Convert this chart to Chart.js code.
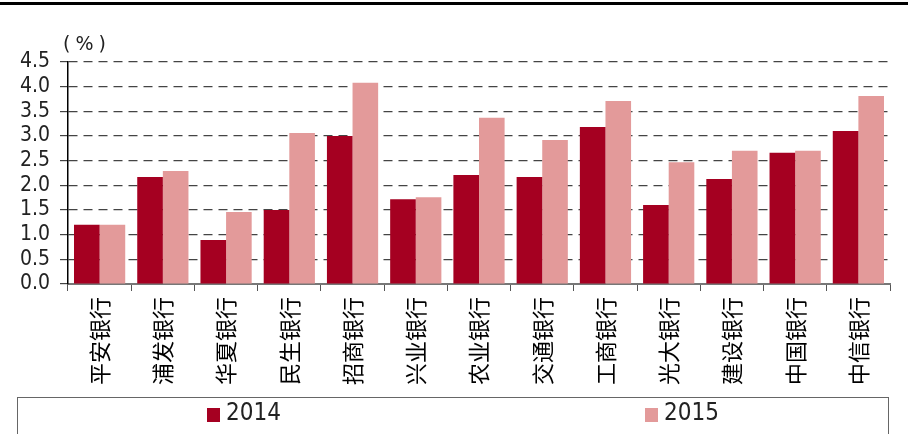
<!DOCTYPE html>
<html>
<head>
<meta charset="utf-8">
<script src="https://cdn.jsdelivr.net/npm/chart.js@4/dist/chart.umd.min.js"></script>
<style>
  html, body { margin: 0; padding: 0; background: #fff; }
  #wrap { width: 908px; height: 434px; position: relative; }
</style>
</head>
<body>
<div id="wrap"><canvas id="chart_banks"></canvas></div>
<script>
var banks = ['平安银行', '浦发银行', '华夏银行', '民生银行', '招商银行', '兴业银行', '农业银行',
             '交通银行', '工商银行', '光大银行', '建设银行', '中国银行', '中信银行'];
var values2014 = [1.20, 2.17, 0.89, 1.50, 3.00, 1.72, 2.21, 2.17, 3.18, 1.60, 2.13, 2.66, 3.10];
var values2015 = [1.20, 2.29, 1.46, 3.06, 4.08, 1.76, 3.37, 2.92, 3.71, 2.47, 2.70, 2.70, 3.81];
var seriesNames = ['2014', '2015'];
var unitLabel = '(%)';

var numFont = '"Liberation Sans Narrow", "DejaVu Sans Condensed", "Liberation Sans", sans-serif';

var chart_banks = new Chart(document.getElementById('chart_banks'), {
    type: 'bar',
    data: {
        labels: banks,
        datasets: [
            {
                label: seriesNames[0],
                data: values2014,
                backgroundColor: '#A50021',
                categoryPercentage: 0.81,
                barPercentage: 1.0
            },
            {
                label: seriesNames[1],
                data: values2015,
                backgroundColor: '#E39A9A',
                categoryPercentage: 0.81,
                barPercentage: 1.0
            }
        ]
    },
    options: {
        animation: false,
        responsive: true,
        maintainAspectRatio: false,
        layout: {
            padding: { top: 62, right: 18, bottom: 44, left: 0 }
        },
        plugins: {
            legend: { display: false },
            tooltip: { enabled: false }
        },
        scales: {
            x: {
                grid: {
                    offset: true,
                    drawOnChartArea: false,
                    tickLength: 7,
                    color: '#555'
                },
                border: { color: '#777', width: 2 },
                ticks: {
                    minRotation: 90,
                    maxRotation: 90,
                    autoSkip: false,
                    padding: 6,
                    color: '#000',
                    font: { family: '"Noto Sans CJK SC", sans-serif', size: 22 }
                },
                afterFit: function (scale) { scale.height = 106; }
            },
            y: {
                min: 0,
                max: 4.5,
                ticks: {
                    stepSize: 0.5,
                    autoSkip: false,
                    color: '#222',
                    padding: 10,
                    font: { family: numFont, size: 21 },
                    callback: function (v) { return v.toFixed(1); }
                },
                grid: {
                    color: '#444',
                    lineWidth: 1.2,
                    tickLength: 8
                },
                border: { color: '#000', width: 1.5, dash: [9, 6] },
                afterFit: function (scale) { scale.width = 68; }
            }
        }
    },
    plugins: [{
        id: 'frameAndLegend',
        beforeDraw: function (chart) {
            var ctx = chart.ctx;
            ctx.save();
            ctx.fillStyle = 'white';
            ctx.fillRect(0, 0, chart.width, chart.height);
            ctx.restore();
        },
        afterDraw: function (chart) {
            var ctx = chart.ctx;
            ctx.save();
            // top rule
            ctx.fillStyle = '#000';
            ctx.fillRect(0, 2, chart.width, 3);
            // unit label
            ctx.fillStyle = '#222';
            ctx.font = '19px "DejaVu Sans", sans-serif';
            ctx.letterSpacing = '5px';
            ctx.textAlign = 'left';
            ctx.textBaseline = 'middle';
            ctx.fillText(unitLabel, 63, 45);
            ctx.letterSpacing = '0px';
            // legend box
            ctx.strokeStyle = '#666';
            ctx.lineWidth = 1;
            ctx.strokeRect(17.5, 397.5, 871, 45);
            var itemX = [207, 645];
            ctx.font = '24px ' + numFont;
            chart.data.datasets.forEach(function (ds, i) {
                ctx.fillStyle = ds.backgroundColor;
                ctx.fillRect(itemX[i], 408, 13, 14);
                ctx.fillStyle = '#222';
                ctx.fillText(ds.label, itemX[i] + 19, 414);
            });
            ctx.restore();
        }
    }]
});
</script>
</body>
</html>
